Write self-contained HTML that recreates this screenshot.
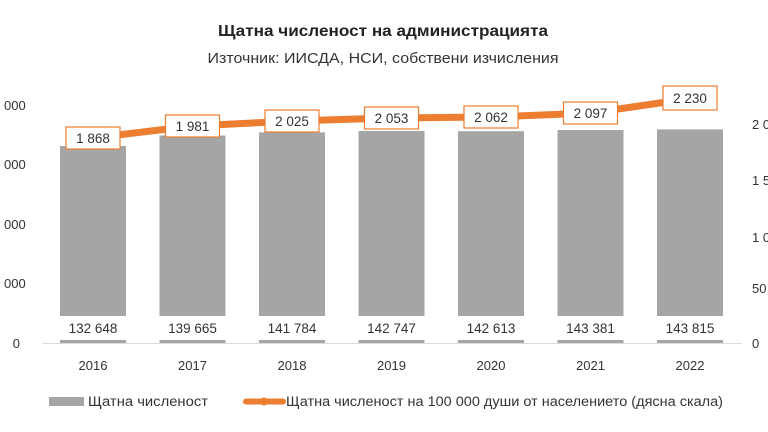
<!DOCTYPE html>
<html><head><meta charset="utf-8"><style>
html,body{margin:0;padding:0;background:#fff;}
svg{display:block;font-family:"Liberation Sans",sans-serif;}
</style></head><body>
<svg width="768" height="432" viewBox="0 0 768 432" xmlns="http://www.w3.org/2000/svg">
<text x="383" y="36" text-anchor="middle" font-size="16" font-weight="bold" fill="#222" textLength="330" lengthAdjust="spacingAndGlyphs">Щатна численост на администрацията</text>
<text x="383" y="63" text-anchor="middle" font-size="15" fill="#333" textLength="351" lengthAdjust="spacingAndGlyphs">Източник: ИИСДА, НСИ, собствени изчисления</text>
<g font-size="13" fill="#333">
<text x="4" y="110">000</text><text x="4" y="169">000</text><text x="4" y="229">000</text><text x="4" y="288">000</text><text x="20" y="348" text-anchor="end">0</text>
<text x="752" y="129">2 0</text><text x="752" y="185">1 5</text><text x="752" y="242">1 0</text><text x="752" y="293">50</text><text x="752" y="348">0</text>
</g>
<line x1="43" y1="343.5" x2="742" y2="343.5" stroke="#d9d9d9" stroke-width="1"/>
<g fill="#a5a5a5">
<rect x="60" y="146" width="66" height="197"/>
<rect x="159.5" y="135.5" width="66" height="207.5"/>
<rect x="259" y="132.4" width="66" height="210.6"/>
<rect x="358.5" y="131" width="66" height="212"/>
<rect x="458" y="131.2" width="66" height="211.8"/>
<rect x="557.5" y="130" width="66" height="213"/>
<rect x="657" y="129.4" width="66" height="213.6"/>
</g>
<g fill="#fff">
<rect x="60" y="316" width="66" height="24"/><rect x="159.5" y="316" width="66" height="24"/><rect x="259" y="316" width="66" height="24"/><rect x="358.5" y="316" width="66" height="24"/><rect x="458" y="316" width="66" height="24"/><rect x="557.5" y="316" width="66" height="24"/><rect x="657" y="316" width="66" height="24"/>
</g>
<g font-size="13.5" fill="#333" text-anchor="middle">
<text x="93" y="333">132 648</text><text x="192.5" y="333">139 665</text><text x="292" y="333">141 784</text><text x="391.5" y="333">142 747</text><text x="491" y="333">142 613</text><text x="590.5" y="333">143 381</text><text x="690" y="333">143 815</text>
</g>
<polyline points="93,138 192.5,126 292,121 391.5,118 491,117 590.5,113 690,98.6" fill="none" stroke="#ed7d31" stroke-width="7" stroke-linejoin="round"/>
<g fill="#fff" stroke="#ed7d31" stroke-width="1.2">
<rect x="66" y="127" width="54" height="22"/><rect x="165.5" y="115" width="54" height="22"/><rect x="265" y="110" width="54" height="22"/><rect x="364.5" y="107" width="54" height="22"/><rect x="464" y="106" width="54" height="22"/><rect x="563.5" y="102" width="54" height="22"/><rect x="663" y="86" width="54" height="24"/>
</g>
<g font-size="13.5" fill="#333" text-anchor="middle">
<text x="93" y="143">1 868</text><text x="192.5" y="131">1 981</text><text x="292" y="126">2 025</text><text x="391.5" y="123">2 053</text><text x="491" y="122">2 062</text><text x="590.5" y="118">2 097</text><text x="690" y="103">2 230</text>
</g>
<g font-size="13" fill="#333" text-anchor="middle">
<text x="93" y="370">2016</text><text x="192.5" y="370">2017</text><text x="292" y="370">2018</text><text x="391.5" y="370">2019</text><text x="491" y="370">2020</text><text x="590.5" y="370">2021</text><text x="690" y="370">2022</text>
</g>
<rect x="49" y="397" width="35" height="9" fill="#a5a5a5"/>
<text x="88" y="406" font-size="13.5" fill="#333" textLength="120" lengthAdjust="spacingAndGlyphs">Щатна численост</text>
<line x1="246" y1="401.5" x2="283" y2="401.5" stroke="#ed7d31" stroke-width="6" stroke-linecap="round"/>
<circle cx="264" cy="401.5" r="4" fill="#ed7d31"/>
<text x="286" y="406" font-size="13.5" fill="#333" textLength="437" lengthAdjust="spacingAndGlyphs">Щатна численост на 100 000 души от населението (дясна скала)</text>
</svg>
</body></html>
